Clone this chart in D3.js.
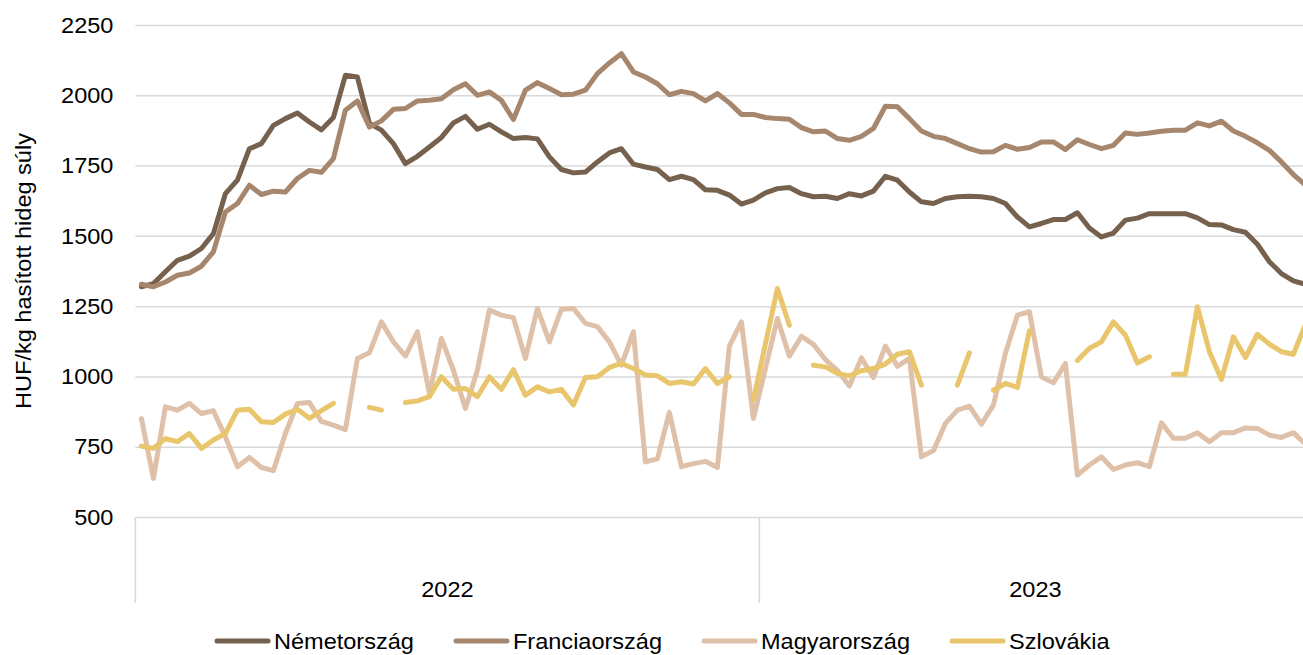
<!DOCTYPE html>
<html>
<head>
<meta charset="utf-8">
<script src="https://cdn.jsdelivr.net/npm/d3@7"></script>
<style>
  html, body { margin: 0; padding: 0; background: #fff; }
  svg { display: block; font-family: 'Liberation Sans', Arial, sans-serif; }
</style>
</head>
<body>
<div id="chart"></div>
<script>
// heti adatok, 2022 1. hét - 2023 46. hét
var years = ['2022', '2023']
var weeksPerYear = [52, 46]
var yTicks = [500, 750, 1000, 1250, 1500, 1750, 2000, 2250]
var seriesNames = ['Németország', 'Franciaország', 'Magyarország', 'Szlovákia']

var nemet = [1319, 1330, 1372, 1413, 1428, 1455, 1508, 1650, 1698, 1810, 1828, 1893, 1917, 1937, 1905, 1877,
  1921, 2071, 2065, 1900, 1876, 1828, 1757, 1783, 1816, 1850, 1902, 1925, 1879, 1897, 1870, 1846,
  1850, 1845, 1781, 1736, 1724, 1727, 1763, 1795, 1810, 1755, 1745, 1736, 1700, 1712, 1700, 1664,
  1662, 1645, 1613, 1627, 1653, 1668, 1672, 1650, 1639, 1641, 1633, 1650, 1642, 1659, 1712, 1698,
  1656, 1621, 1615, 1633, 1639, 1641, 1639, 1633, 1615, 1567, 1532, 1544, 1558, 1558, 1582, 1528,
  1496, 1510, 1556, 1563, 1579, 1579, 1579, 1579, 1564, 1540, 1539, 1522, 1513, 1470, 1408, 1366,
  1340, 1328]

var franc = [1328, 1319, 1336, 1360, 1368, 1392, 1443, 1585, 1615, 1680, 1647, 1659, 1656, 1704, 1733, 1726,
  1775, 1947, 1980, 1887, 1909, 1950, 1953, 1980, 1982, 1988, 2020, 2041, 2000, 2012, 1982, 1914,
  2018, 2045, 2024, 2002, 2004, 2018, 2077, 2115, 2148, 2083, 2065, 2041, 2002, 2014, 2006, 1980,
  2006, 1973, 1932, 1932, 1921, 1917, 1915, 1885, 1870, 1873, 1846, 1840, 1854, 1882, 1961, 1959,
  1917, 1873, 1854, 1846, 1828, 1810, 1798, 1799, 1822, 1808, 1814, 1834, 1834, 1807, 1842, 1825,
  1810, 1822, 1866, 1861, 1866, 1872, 1876, 1876, 1902, 1891, 1908, 1873, 1854, 1831, 1804, 1763,
  1718, 1681]

var magyar = [850, 637, 892, 880, 904, 868, 878, 785, 679, 712, 676, 665, 797, 904, 907, 840,
  827, 811, 1064, 1084, 1194, 1123, 1072, 1159, 939, 1135, 1022, 886, 1022, 1236, 1218, 1209,
  1064, 1242, 1123, 1239, 1242, 1189, 1177, 1123, 1040, 1159, 696, 707, 872, 679, 690, 698,
  676, 1108, 1194, 851, 1028, 1206, 1072, 1143, 1114, 1060, 1022, 966, 1066, 996, 1108, 1036,
  1064, 714, 736, 833, 880, 894, 830, 898, 1082, 1218, 1230, 999, 977, 1046, 649, 685,
  714, 669, 685, 693, 679, 835, 780, 780, 800, 768, 800, 800, 817, 815, 791, 783,
  800, 759]

var szlovak = [752, 744, 779, 768, 797, 744, 774, 797, 880, 883, 839, 836, 866, 883, 851, 878,
  904, null, null, 890, 880, null, 907, 913, 928, 999, 954, 957, 928, 999, 954, 1024,
  933, 963, 945, 954, 898, 996, 999, 1032, 1046, 1028, 1005, 1002, 975, 981, 973, 1028,
  975, 999, null, 916, 1115, 1313, 1182, null, 1040, 1034, 1011, 1002, 1020, 1028, 1044, 1079,
  1088, 969, null, null, 969, 1084, null, 951, 975, 961, 1162, null, null, null, 1057, 1100,
  1123, 1194, 1147, 1048, 1070, null, 1008, 1008, 1248, 1088, 989, 1141, 1067, 1150, 1115, 1088,
  1079, 1185]

var colors = ['#75614e', '#a6866c', '#dfc0a9', '#e9c56b']

var width = 1303
var height = 655
var plotLeft = 135.4
var plotTop = 25
var plotBottom = 517
var stretch = 1.07
var fontSize = 22

var nWeeks = d3.sum(weeksPerYear)
var plotRight = plotLeft + nWeeks * 12

var x = d3.scaleBand()
  .domain(d3.range(nWeeks))
  .range([plotLeft, plotRight])
  .padding(0)

var y = d3.scaleLinear()
  .domain([500, 2250])
  .range([plotBottom, plotTop])

function cx (i) { return x(i) + x.bandwidth() / 2 }

var svg = d3.select('#chart').append('svg')
  .attr('width', width)
  .attr('height', height)

function label (g, tx, ty, txt, anchor, rot) {
  g.append('text')
    .attr('transform', 'translate(' + tx + ',' + ty + ')' + (rot ? ' rotate(' + rot + ')' : '') + ' scale(' + stretch + ',1)')
    .attr('text-anchor', anchor)
    .attr('dy', '0.35em')
    .attr('font-size', fontSize)
    .attr('fill', '#000')
    .text(txt)
}

// gridlines
var grid = svg.append('g')
  .attr('class', 'grid')
  .attr('transform', 'translate(' + plotLeft + ',0)')
  .call(d3.axisLeft(y).tickValues(yTicks).tickSize(-(plotRight - plotLeft)).tickFormat(''))
grid.select('.domain').remove()
grid.selectAll('line').attr('stroke', '#d9d9d9').attr('stroke-width', 1.5)

// y tick labels
var yLab = svg.append('g')
yTicks.forEach(function (t) {
  label(yLab, plotLeft - 22, y(t), t, 'end')
})

// y axis title
label(svg, 23, (plotTop + plotBottom) / 2, 'HUF/kg hasított hideg súly', 'middle', -90)

// category (year) separators and labels
var start = 0
var sep = svg.append('g')
years.forEach(function (yr, k) {
  var x0 = x(start)
  var x1 = x(start + weeksPerYear[k] - 1) + x.bandwidth()
  sep.append('line')
    .attr('x1', x0).attr('x2', x0)
    .attr('y1', plotBottom).attr('y2', 603)
    .attr('stroke', '#d9d9d9').attr('stroke-width', 1.5)
  label(sep, (x0 + x1) / 2, 589, yr, 'middle')
  start += weeksPerYear[k]
})
sep.append('line')
  .attr('x1', plotRight).attr('x2', plotRight)
  .attr('y1', plotBottom).attr('y2', 603)
  .attr('stroke', '#d9d9d9').attr('stroke-width', 1.5)

// series lines
var line = d3.line()
  .defined(function (d) { return d != null })
  .x(function (d, i) { return cx(i) })
  .y(function (d) { return y(d) })

var allSeries = [nemet, franc, magyar, szlovak]
svg.append('g')
  .attr('class', 'series')
  .selectAll('path')
  .data(allSeries)
  .join('path')
  .attr('d', line)
  .attr('fill', 'none')
  .attr('stroke', function (d, i) { return colors[i] })
  .attr('stroke-width', 5)
  .attr('stroke-linejoin', 'round')
  .attr('stroke-linecap', 'round')

// legend
var legendX = [215, 454, 702, 950]
var legendY = 641
var legend = svg.append('g').attr('class', 'legend')
seriesNames.forEach(function (name, i) {
  legend.append('line')
    .attr('x1', legendX[i] + 2).attr('x2', legendX[i] + 53)
    .attr('y1', legendY).attr('y2', legendY)
    .attr('stroke', colors[i])
    .attr('stroke-width', 5)
    .attr('stroke-linecap', 'round')
  label(legend, legendX[i] + 59, legendY, name, 'start')
})
</script>
</body>
</html>
